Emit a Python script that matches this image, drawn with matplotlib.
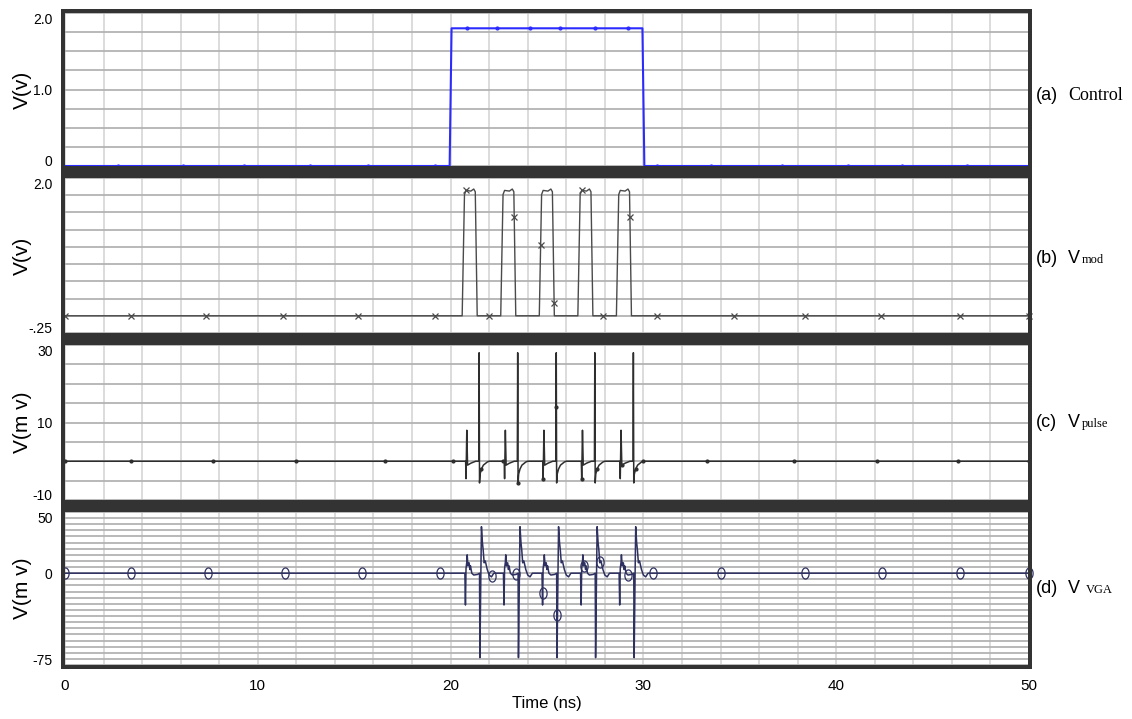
import numpy as np
import matplotlib
matplotlib.use("Agg")
import matplotlib.pyplot as plt
from matplotlib.patches import Rectangle
from matplotlib.path import Path

plt.rcParams['font.family'] = ['Liberation Sans', 'DejaVu Sans']

# ---- waveform data (time in ns) ----
# (a) control signal
ctrl_t = [0.0, 19.95, 20.05, 29.95, 30.05, 50.0]
ctrl_v = [0.0, 0.0, 1.8, 1.8, 0.0, 0.0]
ctrl_mark_t = [2.75, 6.1, 9.3, 12.7, 15.7, 19.2, 20.85, 22.4, 24.1, 25.7, 27.5, 29.2,
               30.7, 33.5, 37.2, 40.6, 43.4, 46.8]

# rising edges of the modulated pulses
pulse_start = [20.6, 22.6, 24.6, 26.6, 28.6]

# (b) Vmod, one pulse relative to its rising edge
mod_dt = [0.0, 0.12, 0.2, 0.45, 0.6, 0.68, 0.78]
mod_v = [0.0, 1.76, 1.82, 1.81, 1.84, 1.80, 0.0]
mod_mark_t = [0.0, 3.4, 7.3, 11.3, 15.2, 19.2, 20.8, 22.0, 23.3, 24.67, 25.37, 26.8,
              27.9, 29.3, 30.7, 34.7, 38.4, 42.3, 46.4, 50.0]

# (c) Vpulse (mV), response to one pulse
pls_dt = [0.0, 0.18, 0.2, 0.24, 0.28, 0.45, 0.7, 0.86, 0.88, 0.9, 0.93, 1.0, 1.1, 1.3, 1.4]
pls_v = [0.0, 0.0, -4.5, 8.0, -1.0, -0.5, 0.0, 0.0, 28.0, -5.6, -3.3, -2.0, -1.0, -0.2, 0.0]
pls_mark_t = [0.0, 3.4, 7.7, 12.0, 16.6, 20.1, 21.6, 22.7, 23.5, 24.8, 25.47, 26.8,
              27.6, 28.9, 29.6, 30.0, 33.3, 37.8, 42.1, 46.3, 50.0]

# (d) VVGA (mV), response to one pulse
vga_dt = [0.0, 0.14, 0.17, 0.2, 0.24, 0.26, 0.3, 0.36, 0.4, 0.43, 0.5, 0.6, 0.8, 0.9,
          0.92, 0.97, 1.0, 1.05, 1.09, 1.14, 1.2, 1.3, 1.4, 1.52, 1.64]
vga_v = [0.0, 0.0, -26.0, 4.0, 9.0, 15.0, 6.0, 8.5, 3.0, 6.0, 0.0, -1.5, -1.0, 0.0,
         -69.0, 0.0, 38.0, 25.0, 19.0, 8.5, 10.0, 3.0, -1.5, -3.0, 0.0]
vga_mark_t = [0.0, 3.4, 7.4, 11.4, 15.4, 19.45, 22.16, 23.4, 24.78, 25.51, 26.9, 27.75,
              29.2, 30.48, 34.0, 38.4, 42.4, 46.4, 50.0]


def pulse_train(dt, v, starts, t_end=50.0):
    t = [0.0]
    y = [0.0]
    for s in starts:
        t += [s + d for d in dt]
        y += list(v)
    t.append(t_end)
    y.append(0.0)
    return np.array(t), np.array(y)


mod_t, mod_y = pulse_train(mod_dt, mod_v, pulse_start)
pls_t, pls_y = pulse_train(pls_dt, pls_v, pulse_start)
vga_t, vga_y = pulse_train(vga_dt, vga_v, pulse_start)

# ---- layout in pixels ----
W, H = 1132, 719
fig = plt.figure(figsize=(W / 100, H / 100), dpi=100)

x0, x1 = 65, 1029
panel_rows = [(13, 166), (178, 333), (345, 500), (512, 665)]


def px_rect(xa, ya, xb, yb, color='#333333'):
    fig.add_artist(Rectangle((xa / W, 1 - yb / H), (xb - xa) / W, (yb - ya) / H,
                             transform=fig.transFigure, color=color, zorder=5, lw=0))


axes = []
for top, bot in panel_rows:
    ax = fig.add_axes([x0 / W, 1 - bot / H, (x1 - x0) / W, (bot - top) / H])
    for sp in ax.spines.values():
        sp.set_visible(False)
    ax.set_xlim(0, 50)
    ax.set_xticks(np.arange(0, 51, 2))
    ax.tick_params(length=0, labelsize=10, pad=9)
    ax.grid(True, axis='x', color='#d9d9d9', lw=1.3)
    ax.grid(True, axis='y', color='#b3b3b3', lw=1.3)
    ax.set_axisbelow(True)
    axes.append(ax)

ax_a, ax_b, ax_c, ax_d = axes

# (a)
ax_a.plot(ctrl_t, ctrl_v, color='#2b2bff', lw=1.5, clip_on=False, zorder=3)
ax_a.plot(ctrl_mark_t, np.interp(ctrl_mark_t, ctrl_t, ctrl_v), ls='none', marker='.',
          ms=4, color='#2b2bff', clip_on=False, zorder=3)
ax_a.set_ylim(0, 2.0)
yt = np.arange(0, 2.01, 0.25)
ax_a.set_yticks(yt)
ax_a.set_yticklabels(['0' if v == 0 else '1.0' if v == 1 else '2.0' if v == 2 else '' for v in yt])

# (b)
ax_b.plot(mod_t, mod_y, color='#4a4a4a', lw=1.0, zorder=3)
ax_b.plot(mod_mark_t, np.interp(mod_mark_t, mod_t, mod_y), ls='none', marker='x',
          ms=5, mew=0.9, color='#4a4a4a', clip_on=False, zorder=3)
ax_b.set_ylim(-0.25, 2.0)
yt = np.arange(-0.25, 2.01, 0.25)
ax_b.set_yticks(yt)
ax_b.set_yticklabels(['-.25' if v == -0.25 else '2.0' if v == 2 else '' for v in yt])

# (c)
ax_c.plot(pls_t, pls_y, color='#2e2e2e', lw=1.1, zorder=3)
ax_c.plot(pls_mark_t, np.interp(pls_mark_t, pls_t, pls_y), ls='none', marker='.',
          ms=4, color='#2e2e2e', clip_on=False, zorder=3)
ax_c.set_ylim(-10, 30)
yt = np.arange(-10, 31, 5)
ax_c.set_yticks(yt)
ax_c.set_yticklabels([str(v) if v in (-10, 10, 30) else '' for v in yt])

# (d)
ell = np.linspace(0, 2 * np.pi, 40)
ellipse = Path(np.column_stack([0.65 * np.cos(ell), np.sin(ell)]))
ax_d.plot(vga_t, vga_y, color='#2d3060', lw=1.1, zorder=3)
ax_d.plot(vga_mark_t, np.interp(vga_mark_t, vga_t, vga_y), ls='none', marker=ellipse,
          ms=8, mew=0.9, mfc='none', color='#2d3060', clip_on=False, zorder=3)
ax_d.set_ylim(-75, 50)
yt = np.arange(-75, 51, 5)
ax_d.set_yticks(yt)
ax_d.set_yticklabels([str(v) if v in (-75, 0, 50) else '' for v in yt])

# keep the end labels inside the panel height
for ax in axes:
    labs = ax.get_yticklabels()
    labs[0].set_va('baseline')
    labs[-1].set_va('top')

for ax in axes[:3]:
    ax.set_xticklabels([])
ax_d.set_xticklabels([str(v) if v % 10 == 0 else '' for v in np.arange(0, 51, 2)])
ax_d.tick_params(axis='x', labelsize=11, pad=10)
ax_d.set_xlabel('Time (ns)', fontsize=12, labelpad=2)

ylabels = ['V(v)', 'V(v)', 'V(m v)', 'V(m v)']
for ax, lab in zip(axes, ylabels):
    ax.set_ylabel(lab, fontsize=15)
    ax.yaxis.set_label_coords(-0.034, 0.5)

# dark frame bars
px_rect(61, 9, 1032, 13)
for ya, yb in [(166, 178), (333, 345), (500, 512), (665, 669)]:
    px_rect(61, ya, 1032, yb)
px_rect(61, 9, 65, 669)
px_rect(1028, 9, 1032, 669)

# panel captions on the right
caps = [
    (100, '(a)', 'Control', None),
    (263, '(b)', 'V', 'mod'),
    (427, '(c)', 'V', 'pulse'),
    (593, '(d)', 'V', 'VGA'),
]
for base, tag, main, sub in caps:
    yb = 1 - base / H
    fig.text(1036 / W, yb, tag, fontsize=13, va='baseline', ha='left')
    if sub is None:
        fig.text(1068 / W, yb, main, fontsize=13, va='baseline', ha='left',
                 family=['Liberation Serif', 'DejaVu Serif'])
    else:
        fig.text(1068 / W, yb, main, fontsize=13, va='baseline', ha='left')
        sx = 1082 if sub != 'VGA' else 1086
        fig.text(sx / W, yb, sub, fontsize=9, va='baseline', ha='left',
                 family=['Liberation Serif', 'DejaVu Serif'])

fig.savefig('out.png', dpi=100, facecolor='white')
